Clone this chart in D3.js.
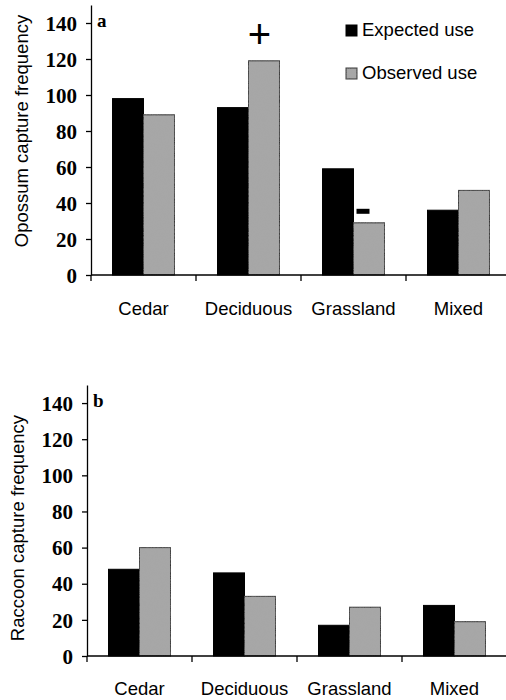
<!DOCTYPE html>
<html>
<head>
<meta charset="utf-8">
<script src="https://cdn.jsdelivr.net/npm/d3@7"></script>
<style>
  body { margin: 0; background: #fff; }
  svg { display: block; }
  .tick-lbl { font-family: "Liberation Serif", "Times New Roman", serif; font-weight: bold; font-size: 21px; }
  .sans { font-family: "Liberation Sans", Arial, sans-serif; font-size: 18.5px; }
</style>
</head>
<body>
<div id="chart"></div>
<script>
// data
var categories = ['Cedar', 'Deciduous', 'Grassland', 'Mixed'];
var seriesNames = ['Expected use', 'Observed use'];
var yTicks = [0, 20, 40, 60, 80, 100, 120, 140];

var opossumExpected = [98, 93, 59, 36];
var opossumObserved = [89, 119, 29, 47];
var raccoonExpected = [48, 46, 17, 28];
var raccoonObserved = [60, 33, 27, 19];

// significance marks (panel a only)
var opossumMarks = [{cat: 'Deciduous', mark: '+'}, {cat: 'Grassland', mark: '-'}];

var width = 506, height = 700;
var colors = ['#000000', '#a6a6a6'];

var svg = d3.select('#chart').append('svg')
    .attr('width', width)
    .attr('height', height);

// texture for the grey bars
var defs = svg.append('defs');
var filter = defs.append('filter').attr('id', 'grain');
filter.append('feTurbulence').attr('type', 'fractalNoise').attr('baseFrequency', 0.9).attr('numOctaves', 1).attr('result', 'n');
filter.append('feColorMatrix').attr('in', 'n').attr('type', 'matrix')
    .attr('values', '0 0 0 0 0.4  0 0 0 0 0.4  0 0 0 0 0.4  0 0 0 0.4 0').attr('result', 'g');
filter.append('feComposite').attr('in', 'g').attr('in2', 'SourceGraphic').attr('operator', 'in').attr('result', 'g2');
filter.append('feMerge').call(function (m) {
    m.append('feMergeNode').attr('in', 'SourceGraphic');
    m.append('feMergeNode').attr('in', 'g2');
});

function drawPanel(opt) {
    var g = svg.append('g');

    var y = d3.scaleLinear().domain([0, 150]).range([opt.y0, opt.yTop]);
    var x = d3.scaleBand().domain(categories).range([opt.x0, opt.x0 + 105 * 4]);
    var xSub = d3.scaleBand().domain([0, 1]).range([0, x.bandwidth()]).paddingOuter(0.694);

    var rows = categories.map(function (c, i) {
        return {cat: c, vals: [opt.expected[i], opt.observed[i]]};
    });

    // bars
    var grp = g.selectAll('.grp').data(rows).enter().append('g')
        .attr('transform', function (d) { return 'translate(' + x(d.cat) + ',0)'; });
    grp.selectAll('rect').data(function (d) { return d.vals; }).enter().append('rect')
        .attr('x', function (d, i) { return xSub(i); })
        .attr('y', function (d) { return y(d); })
        .attr('width', xSub.bandwidth())
        .attr('height', function (d) { return opt.y0 - y(d); })
        .attr('fill', function (d, i) { return colors[i]; })
        .attr('filter', function (d, i) { return i === 1 ? 'url(#grain)' : null; })
        .attr('stroke', '#000')
        .attr('stroke-width', 1);

    // y axis
    var yAxis = g.append('g')
        .attr('transform', 'translate(' + opt.x0 + ',0)')
        .call(d3.axisLeft(y).tickValues(yTicks).tickSize(5).tickPadding(9).tickSizeOuter(0));
    yAxis.select('.domain').attr('stroke-width', 1.3);
    yAxis.selectAll('.tick line').attr('stroke-width', 1.3);
    yAxis.selectAll('text').attr('class', 'tick-lbl').attr('font-family', null).attr('font-size', null).attr('dy', '0.34em');

    // x axis line with boundary ticks
    g.append('line')
        .attr('x1', opt.x0).attr('x2', width + 10)
        .attr('y1', opt.y0).attr('y2', opt.y0)
        .attr('stroke', '#000').attr('stroke-width', 1.3);
    var bounds = categories.map(function (c) { return x(c); }).concat([x.range()[1]]);
    g.selectAll('.bt').data(bounds).enter().append('line')
        .attr('x1', function (d) { return d; }).attr('x2', function (d) { return d; })
        .attr('y1', opt.y0).attr('y2', opt.y0 + 6)
        .attr('stroke', '#000').attr('stroke-width', 1.3);

    // category labels
    g.selectAll('.cl').data(categories).enter().append('text')
        .attr('class', 'sans')
        .attr('x', function (d) { return x(d) + x.bandwidth() / 2; })
        .attr('y', opt.y0 + opt.labelDy)
        .attr('text-anchor', 'middle')
        .text(function (d) { return d; });

    // panel letter
    g.append('text')
        .attr('class', 'tick-lbl')
        .style('font-size', '19px')
        .attr('x', opt.x0 + 6)
        .attr('y', y(140) + 4)
        .text(opt.letter);

    // y title
    g.append('text')
        .attr('class', 'sans')
        .attr('transform', 'translate(' + (opt.x0 - 63) + ',' + opt.titleY + ') rotate(-90)')
        .attr('text-anchor', 'middle')
        .text(opt.title);

    return {x: x, xSub: xSub, y: y, g: g};
}

var a = drawPanel({
    x0: 91, y0: 275, yTop: 5, labelDy: 40, letter: 'a',
    title: 'Opossum capture frequency', titleY: 131,
    expected: opossumExpected, observed: opossumObserved
});
var b = drawPanel({
    x0: 87, y0: 656, yTop: 385, labelDy: 39, letter: 'b',
    title: 'Raccoon capture frequency', titleY: 528,
    expected: raccoonExpected, observed: raccoonObserved
});

// significance marks above observed bars in panel a
opossumMarks.forEach(function (m) {
    var i = categories.indexOf(m.cat);
    var bx = a.x(m.cat) + a.xSub(1);
    var top = a.y(opossumObserved[i]);
    if (m.mark === '+') {
        a.g.append('text')
            .attr('class', 'sans')
            .style('font-size', '40px')
            .attr('x', bx + 11)
            .attr('y', top - 13)
            .attr('text-anchor', 'middle')
            .text('+');
    } else {
        a.g.append('rect')
            .attr('x', bx + 3)
            .attr('y', top - 14)
            .attr('width', 13)
            .attr('height', 5)
            .attr('fill', '#000');
    }
});

// legend (panel a)
var legend = svg.append('g').selectAll('g').data(seriesNames).enter().append('g')
    .attr('transform', function (d, i) { return 'translate(346,' + (25 + i * 43) + ')'; });
legend.append('rect')
    .attr('width', 11).attr('height', 11)
    .attr('fill', function (d, i) { return colors[i]; })
    .attr('filter', function (d, i) { return i === 1 ? 'url(#grain)' : null; })
    .attr('stroke', '#000').attr('stroke-width', 1);
legend.append('text')
    .attr('class', 'sans')
    .attr('x', 16).attr('y', 11)
    .text(function (d) { return d; });
</script>
</body>
</html>
